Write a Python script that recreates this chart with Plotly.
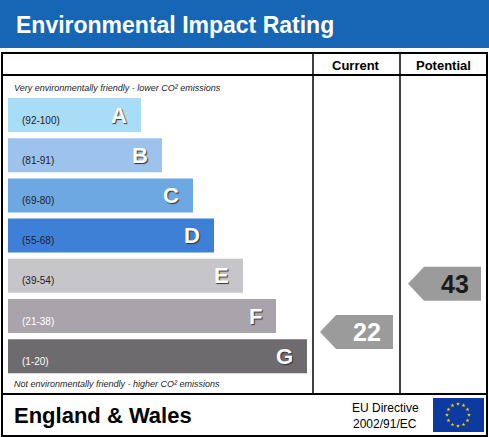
import math
import plotly.graph_objects as go

# rating bands
bands = ["A", "B", "C", "D", "E", "F", "G"]
ranges = ["(92-100)", "(81-91)", "(69-80)", "(55-68)", "(39-54)", "(21-38)", "(1-20)"]
lows = [92, 81, 69, 55, 39, 21, 1]
bar_len = [133, 154, 185, 206, 235, 268, 299]
colors = ["#a9dcf7", "#9dc2ec", "#6da8e2", "#3f80d7", "#c6c5ca", "#a9a3ab", "#6e6b6e"]
current = 22
potential = 43

W, H = 489, 437
y_top = 115
step = 40.2
yc = [y_top + i * step for i in range(len(bands))]


def band_of(v):
    for i, lo in enumerate(lows):
        if v >= lo:
            return i
    return len(lows) - 1


fig = go.Figure()
fig.add_trace(go.Bar(
    y=yc, x=bar_len, base=8, orientation="h", width=34,
    marker=dict(color=colors, line=dict(width=0)), hoverinfo="skip",
))

ann = []


def arrow(x0, x1, yc_, val, txt_col):
    h = 17
    xs = [x0, x0 + 16, x1, x1, x0 + 16, x0]
    ys = [yc_, yc_ - h, yc_ - h, yc_ + h, yc_ + h, yc_]
    fig.add_trace(go.Scatter(x=xs, y=ys, fill="toself", fillcolor="#9b9b9b",
                             line=dict(width=0), mode="lines", hoverinfo="skip"))
    ann.append(dict(x=(x0 + 16 + x1) / 2 + 2, y=yc_, text="<b>%d</b>" % val,
                    font=dict(size=25, color=txt_col)))

arrow(320, 393, yc[band_of(current)] + 16, current, "white")
arrow(408, 481, yc[band_of(potential)] + 8, potential, "#1a1a1a")

# EU stars
sx, sy = [], []
for k in range(12):
    a = 2 * math.pi * k / 12
    sx.append(458 + 11 * math.cos(a))
    sy.append(415 + 11 * math.sin(a))
fig.add_trace(go.Scatter(x=sx, y=sy, mode="markers", hoverinfo="skip",
                         marker=dict(symbol="star", size=3, color="#f5d800")))

shapes = [
    dict(type="rect", x0=0, x1=W, y0=0, y1=48, fillcolor="#1766b5", line_width=0, layer="below"),
    dict(type="rect", x0=2, x1=487, y0=53, y1=436, line=dict(color="black", width=2), layer="above"),
    dict(type="line", x0=2, x1=487, y0=75, y1=75, line=dict(color="black", width=2)),
    dict(type="line", x0=2, x1=487, y0=394, y1=394, line=dict(color="black", width=2)),
    dict(type="line", x0=313, x1=313, y0=53, y1=394, line=dict(color="black", width=1.5)),
    dict(type="line", x0=400, x1=400, y0=53, y1=394, line=dict(color="black", width=1.5)),
    dict(type="rect", x0=433, x1=484, y0=398, y1=432, fillcolor="#0d3a9e", line_width=0, layer="below"),
]

ann += [
    dict(x=14, y=25, text="<b>Environmental Impact Rating</b>", xanchor="left",
         font=dict(size=23, color="white")),
    dict(x=356, y=65, text="<b>Current</b>", font=dict(size=13, color="black")),
    dict(x=443, y=65, text="<b>Potential</b>", font=dict(size=13, color="black")),
    dict(x=12, y=88, text="<i>Very environmentally friendly - lower CO² emissions</i>", xanchor="left",
         font=dict(size=9, color="#222")),
    dict(x=12, y=384, text="<i>Not environmentally friendly - higher CO² emissions</i>", xanchor="left",
         font=dict(size=9, color="#222")),
    dict(x=12, y=415, text="<b>England &amp; Wales</b>", xanchor="left",
         font=dict(size=22, color="black")),
    dict(x=385, y=408, text="EU Directive", font=dict(size=12, color="black")),
    dict(x=385, y=424, text="2002/91/EC", font=dict(size=12, color="black")),
]
for i, b in enumerate(bands):
    ann.append(dict(x=20, y=yc[i] + 5, text=ranges[i], xanchor="left",
                    font=dict(size=10, color="white" if i >= 5 else "#222")))
    ann.append(dict(x=8 + bar_len[i] - 12, y=yc[i], text="<b>%s</b>" % b, xanchor="right",
                    font=dict(size=22, color="white", shadow="1px 1px 1px #333")))
for a in ann:
    a.setdefault("showarrow", False)
    a["font"].setdefault("family", "Liberation Sans")

fig.update_layout(
    width=W, height=H, margin=dict(l=0, r=0, t=0, b=0),
    paper_bgcolor="white", plot_bgcolor="white", showlegend=False,
    xaxis=dict(range=[0, W], visible=False, fixedrange=True),
    yaxis=dict(range=[H, 0], visible=False, fixedrange=True),
    shapes=shapes, annotations=ann,
)
fig.write_html("out.html", config={"displayModeBar": False},
               post_script="document.body.style.margin='0';document.body.style.overflow='hidden';")
